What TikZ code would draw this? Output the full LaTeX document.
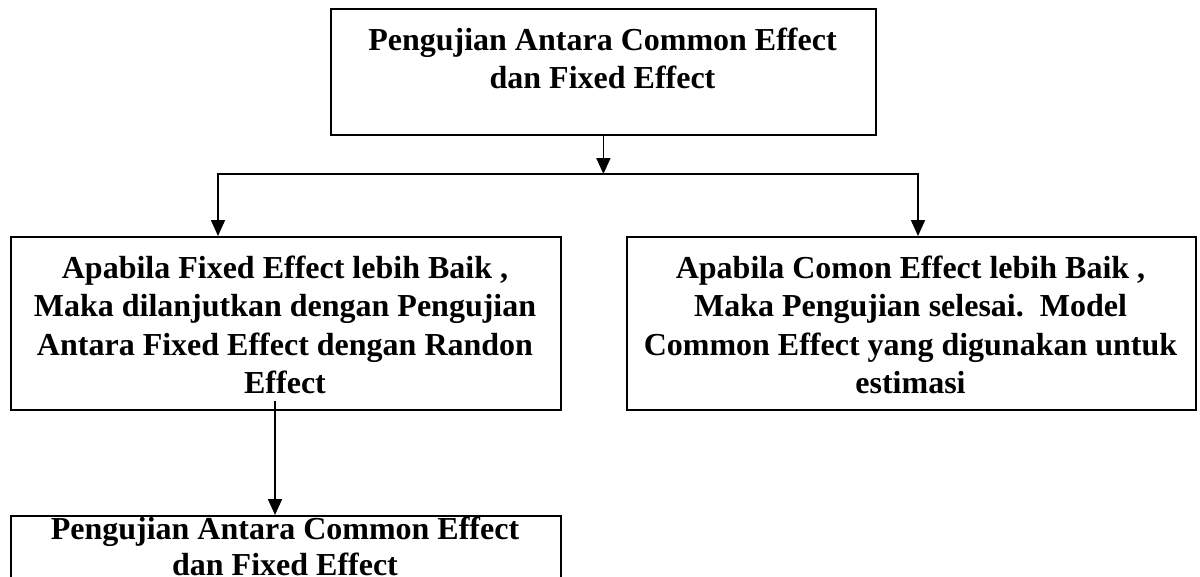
\documentclass[tikz,border=0pt]{standalone}
\usepackage{fontspec}
\setmainfont{Liberation Serif}
\usetikzlibrary{arrows.meta}
\begin{document}
\begin{tikzpicture}[x=1pt,y=-1pt,
  box/.style={draw, line width=1.8pt, rectangle, inner sep=0pt, anchor=north west},
  txt/.style={font=\bfseries\fontsize{32}{38.5}\selectfont, align=center, inner sep=0pt, anchor=north},
  arr/.style={line width=1.8pt, -{Triangle[width=14pt,length=16pt]}}]
\clip (0,0) rectangle (1200,576);
\fill[white] (0,0) rectangle (1200,576);
% boxes
\node[box, minimum width=545pt, minimum height=126pt] (T) at (330,8) {};
\node[box, minimum width=550pt, minimum height=173pt] (L) at (10,236) {};
\node[box, minimum width=569pt, minimum height=173pt] (R) at (626,236) {};
\node[box, minimum width=550pt, minimum height=100pt] (B) at (10,515) {};
% texts
\node[txt] (Tt) at (602.5,26) {\rule{0pt}{24pt}Pengujian Antara Common Effect\\dan Fixed Effect};
\node[txt] (Lt) at (285,254) {\rule{0pt}{24pt}Apabila Fixed Effect lebih Baik ,\\Maka dilanjutkan dengan Pengujian\\Antara Fixed Effect dengan Randon\\Effect};
\node[txt] (Rt) at (910.5,254) {\rule{0pt}{24pt}Apabila Comon Effect lebih Baik ,\\Maka Pengujian selesai.~~Model\\Common Effect yang digunakan untuk\\estimasi};
\node[txt, font=\bfseries\fontsize{32}{36}\selectfont] (Bt) at (285,515) {\rule{0pt}{24pt}Pengujian Antara Common Effect\\dan Fixed Effect};
% connectors
\coordinate (J) at (T.south |- 0,174);
\coordinate (jl) at (218,174);
\coordinate (jr) at (918,174);
\coordinate (ls) at (275,401);
\draw[arr] (T.south) -- (J);
\draw[arr] (J) -| (jl |- L.north);
\draw[arr] (J) -| (jr |- R.north);
\draw[arr] (ls) -- (ls |- B.north);
\end{tikzpicture}
\end{document}
